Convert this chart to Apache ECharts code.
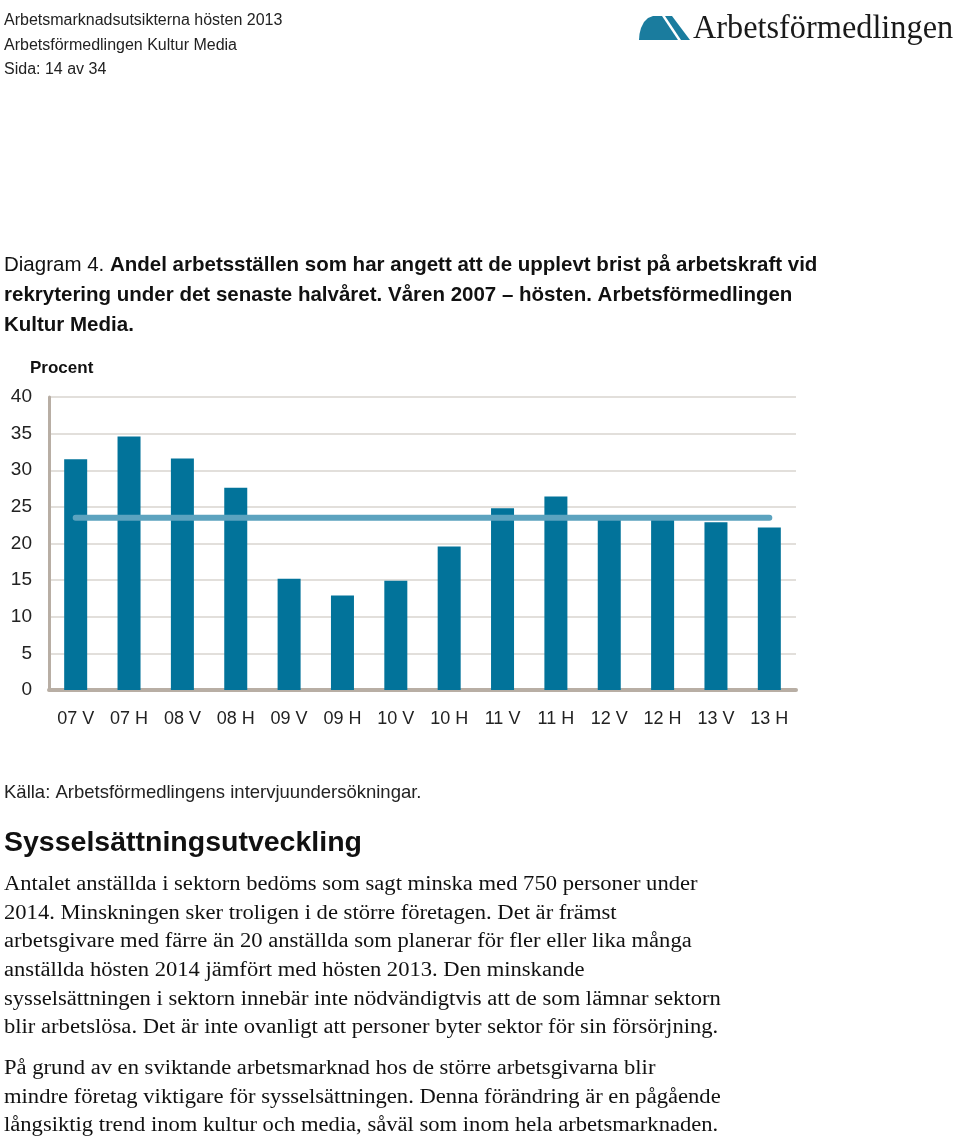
<!DOCTYPE html>
<html>
<head>
<meta charset="utf-8">
<script src="https://cdn.jsdelivr.net/npm/echarts@6/dist/echarts.min.js"></script>
<style>
html,body{margin:0;padding:0;background:#fff;}
#c{width:960px;height:1137px;}
</style>
</head>
<body>
<div id="c"></div>
<script>
const categories = ['07 V','07 H','08 V','08 H','09 V','09 H','10 V','10 H','11 V','11 H','12 V','12 H','13 V','13 H'];
const shortageValues = [31.5, 34.6, 31.6, 27.6, 15.2, 12.9, 14.9, 19.6, 24.8, 26.4, 23.4, 23.4, 22.9, 22.2];
const averageValues = [23.5, 23.5, 23.5, 23.5, 23.5, 23.5, 23.5, 23.5, 23.5, 23.5, 23.5, 23.5, 23.5, 23.5];
const yMin = 0, yMax = 40, yStep = 5;

const headerLines = ['Arbetsmarknadsutsikterna hösten 2013', 'Arbetsförmedlingen Kultur Media', 'Sida: 14 av 34'];
const captionLines = [
  '{n|Diagram 4. }{b|Andel arbetsställen som har angett att de upplevt brist på arbetskraft vid}',
  '{b|rekrytering under det senaste halvåret. Våren 2007 – hösten. Arbetsförmedlingen}',
  '{b|Kultur Media.}'
];
const sourceText = 'Källa: Arbetsförmedlingens intervjuundersökningar.';
const headingText = 'Sysselsättningsutveckling';
const bodyLines1 = [
  'Antalet anställda i sektorn bedöms som sagt minska med 750 personer under',
  '2014. Minskningen sker troligen i de större företagen. Det är främst',
  'arbetsgivare med färre än 20 anställda som planerar för fler eller lika många',
  'anställda hösten 2014 jämfört med hösten 2013. Den minskande',
  'sysselsättningen i sektorn innebär inte nödvändigtvis att de som lämnar sektorn',
  'blir arbetslösa. Det är inte ovanligt att personer byter sektor för sin försörjning.'
];
const bodyLines2 = [
  'På grund av en sviktande arbetsmarknad hos de större arbetsgivarna blir',
  'mindre företag viktigare för sysselsättningen. Denna förändring är en pågående',
  'långsiktig trend inom kultur och media, såväl som inom hela arbetsmarknaden.'
];

const SANS = '"Liberation Sans", Arial, sans-serif';
const SERIF = '"Liberation Serif", "Times New Roman", serif';

const graphics = [];
headerLines.forEach((t, i) => {
  graphics.push({type:'text', left:4, top: 13 + i*24.5, style:{text:t, font:'16px ' + SANS, fill:'#222'}});
});
captionLines.forEach((t, i) => {
  graphics.push({type:'text', left:4, top: 255 + i*30, style:{text:t, fill:'#000', rich:{
    n:{fontFamily:SANS, fontSize:20.5, fontWeight:'normal', fill:'#111'},
    b:{fontFamily:SANS, fontSize:20.5, fontWeight:'bold', fill:'#111'}
  }}});
});
graphics.push({type:'text', left:30, top:360, style:{text:'Procent', font:'bold 17px ' + SANS, fill:'#111'}});
graphics.push({type:'text', left:4, top:783, style:{text:sourceText, font:'18.5px ' + SANS, fill:'#222'}});
graphics.push({type:'text', left:4, top:829, style:{text:headingText, font:'bold 28.5px ' + SANS, fill:'#111'}});
bodyLines1.forEach((t, i) => {
  graphics.push({type:'text', x:4, y: 875 + i*28.6, scaleX:1.13, style:{text:t, font:'20px ' + SERIF, fill:'#111'}});
});
bodyLines2.forEach((t, i) => {
  graphics.push({type:'text', x:4, y: 1059 + i*28.6, scaleX:1.13, style:{text:t, font:'20px ' + SERIF, fill:'#111'}});
});
// logo
graphics.push({type:'polygon', shape:{points:[[639,40],[639.5,34],[641,28],[644,22],[648,18],[653,16],[662,16],[678,40]]}, style:{fill:'#1a7c9e'}});
graphics.push({type:'polygon', shape:{points:[[665,16],[672,16],[690,40],[681,40]]}, style:{fill:'#1a7c9e'}});
graphics.push({type:'text', x:693, y:12, scaleX:0.95, style:{text:'Arbetsförmedlingen', font:'34px ' + SERIF, fill:'#1a1a1a'}});

const chart = echarts.init(document.getElementById('c'), null, {renderer:'canvas'});
chart.setOption({
  backgroundColor:'#fff',
  animation:false,
  grid:{left:49, top:397, width:747, height:293, containLabel:false},
  xAxis:{
    type:'category', data:categories,
    axisLine:{show:true, lineStyle:{color:'#b8aea4', width:4}},
    axisTick:{show:false},
    axisLabel:{fontFamily:SANS, fontSize:18, color:'#222', margin:20, interval:0}
  },
  yAxis:{
    type:'value', min:yMin, max:yMax, interval:yStep,
    axisLine:{show:true, lineStyle:{color:'#b8aea4', width:3}},
    axisTick:{show:false},
    splitLine:{lineStyle:{color:'#d9d5cf', width:1.5}},
    axisLabel:{fontFamily:SANS, fontSize:19, color:'#222', margin:17}
  },
  series:[
    {type:'bar', data:shortageValues, barWidth:23, itemStyle:{color:'#02739a'}, z:2},
    {type:'line', data:averageValues, symbol:'none', lineStyle:{color:'#5ca3bf', width:6, cap:'round'}, z:3}
  ],
  graphic:graphics
});
</script>
</body>
</html>
